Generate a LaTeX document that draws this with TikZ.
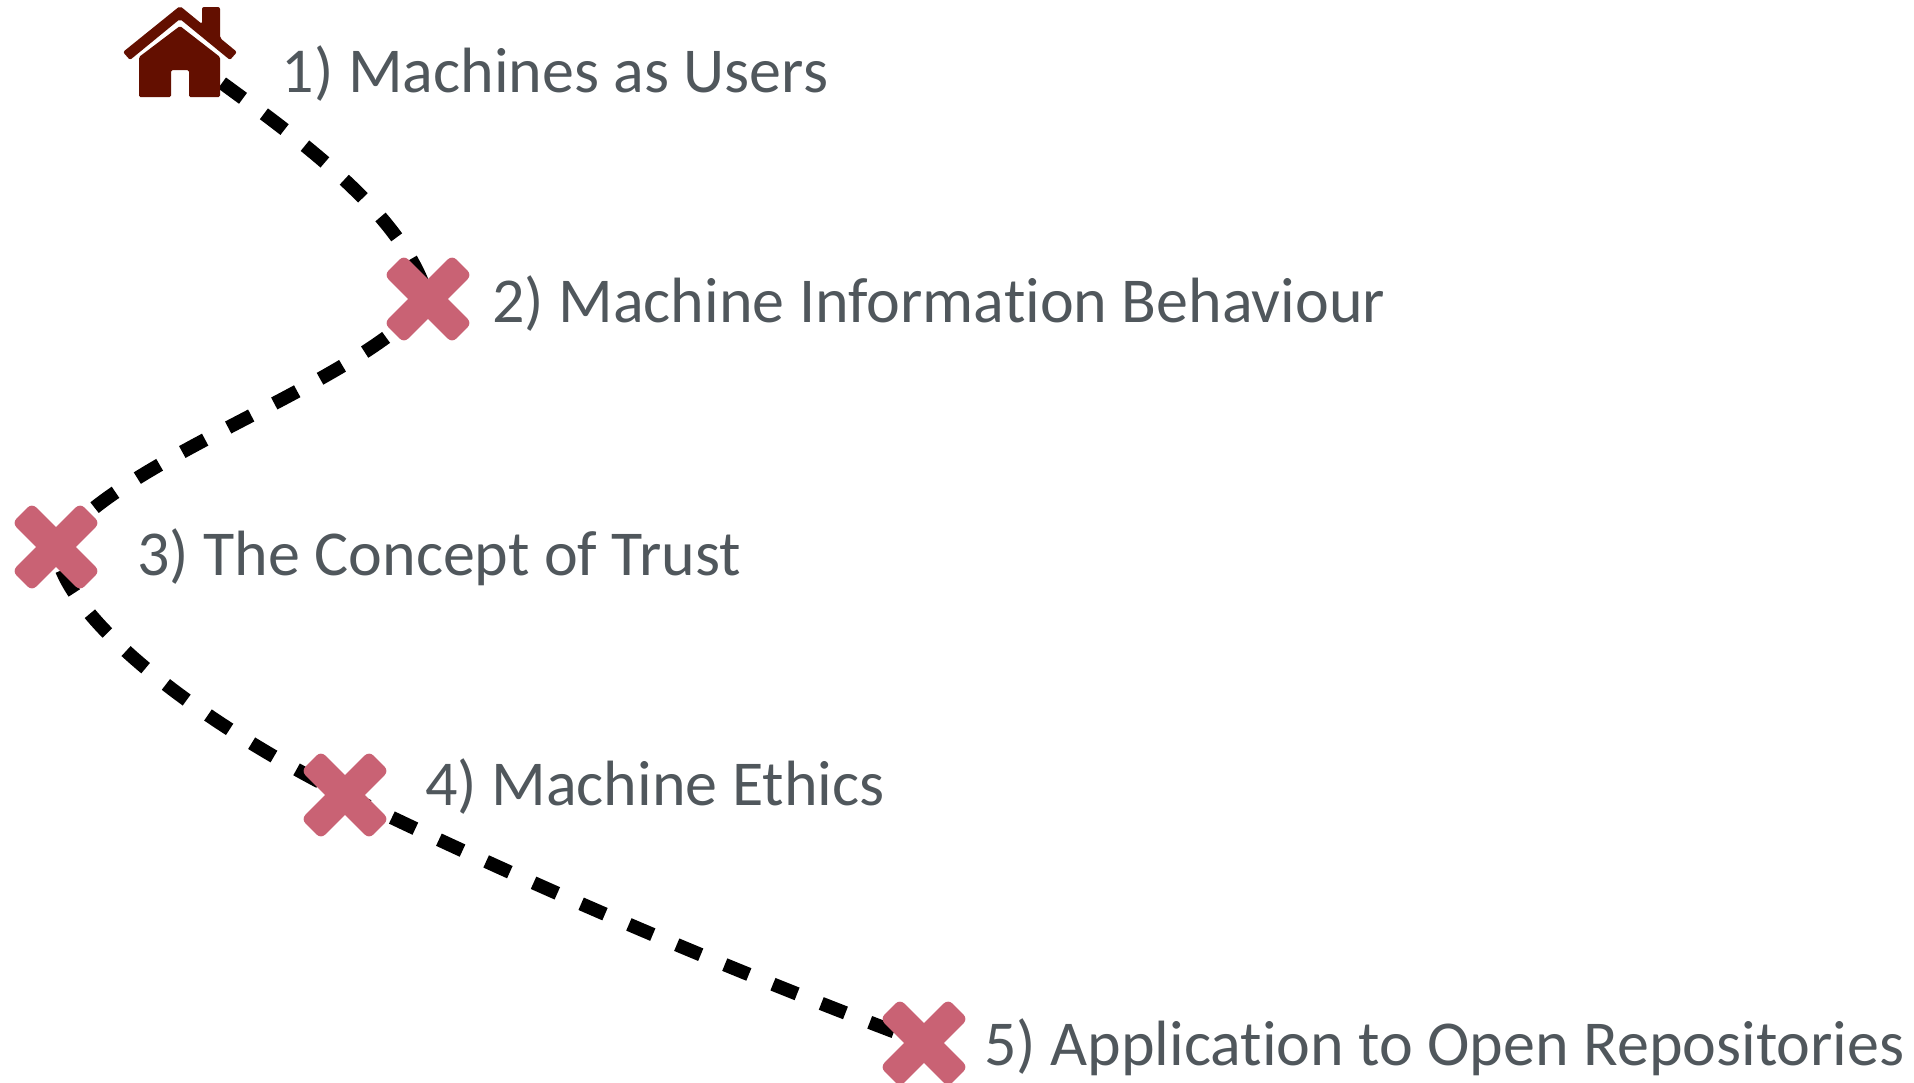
\documentclass[tikz,border=0pt]{standalone}
\usepackage{fontspec}
\setmainfont[Ligatures=NoCommon]{Carlito}
\definecolor{crosscol}{HTML}{C96274}
\definecolor{housecol}{HTML}{630F00}
\definecolor{labelcol}{HTML}{50575C}
\tikzset{
  route/.style={line width=13.5pt,black,dash pattern=on 26pt off 26pt},
  lbl/.style={anchor=base west,inner sep=0pt,text=labelcol,font=\fontsize{64pt}{70pt}\selectfont},
  xshape/.pic={
    \fill[crosscol,rotate=45,rounded corners=6pt] (-48,-14) rectangle (48,14);
    \fill[crosscol,rotate=45,rounded corners=6pt] (-14,-48) rectangle (14,48);
  }
}
\begin{document}
\begin{tikzpicture}[x=1pt,y=-1pt]
\useasboundingbox (0,0) rectangle (1914,1082);
\coordinate (home) at (218,80);
\coordinate (n2) at (428,299);
\coordinate (n3) at (56,547);
\coordinate (n4) at (345,795);
\coordinate (n5) at (924,1043);
\draw[route,dash phase=47pt] (home) .. controls (300,140) and (405,215) .. (n2);
\draw[route,dash phase=47pt] (n2) .. controls (360,385) and (116,458) .. (n3);
\draw[route,dash phase=28pt] (n3) .. controls (60,610) and (180,712) .. (n4);
\draw[route] (n4) .. controls (530,885) and (730,970) .. (n5);
\foreach \n in {n2,n3,n4,n5} \pic at (\n) {xshape};
% house
\fill[housecol,rounded corners=2pt] (180,6) -- (202,24) -- (202,7) -- (220,7) -- (220,38) -- (237,52)
  -- (230,60) -- (180,19) -- (130,60) -- (123,52) -- cycle;
\fill[housecol,rounded corners=1.5pt] (180,26) -- (220,57) -- (220,97) -- (189,97) -- (189,70)
  -- (171,70) -- (171,97) -- (139,97) -- (139,57) -- cycle;
\node[lbl] (t1) at (281.5,92) {1) Machines as Users};
\node[lbl] (t2) at (492,322) {2) Machine Information Behaviour};
\node[lbl] (t3) at (137,575) {3) The Concept of Trust};
\node[lbl] (t4) at (425,805) {4) Machine Ethics};
\node[lbl] (t5) at (984,1065) {5) Application to Open Repositories};
\end{tikzpicture}
\end{document}
